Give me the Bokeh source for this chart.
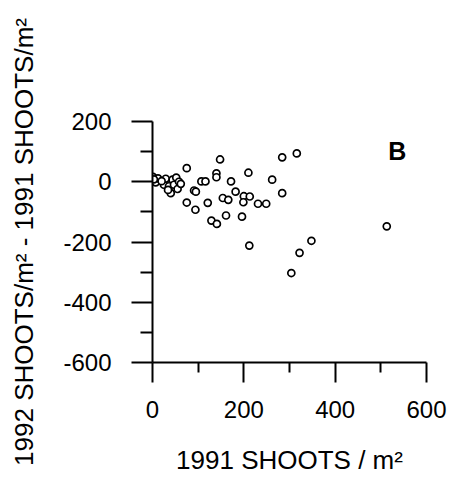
from bokeh.plotting import figure
from bokeh.models import Range1d, Label, FixedTicker, PrintfTickFormatter
from bokeh.embed import file_html
from bokeh.resources import INLINE

# 1991 shoots/m2 (x) and change 1992-1991 (y)
shoots_1991 = [1, 7, 12, 3, 25, 29, 36, 40, 34, 44, 47, 52, 55, 58, 62, 20,
               75, 148, 140, 140, 107, 116, 172, 210, 262, 284, 316, 284,
               91, 95, 75, 94, 121, 154, 166, 182, 200, 213, 199, 231, 249,
               129, 141, 161, 196, 212, 348, 322, 304, 513]
shoots_change = [16, -2, 11, 8, -10, 10, -15, -38, -27, 7, -10, 14, -24, 0, -7, 2,
                 45, 74, 28, 15, 1, 1, 1, 30, 7, 81, 94, -38,
                 -29, -33, -69, -93, -70, -54, -60, -33, -48, -49, -68, -73, -73,
                 -129, -140, -112, -116, -212, -196, -236, -303, -148]

x_ticks = [0, 200, 400, 600]
y_ticks = [-600, -400, -200, 0, 200]

FONT = "Liberation Sans"

p = figure(width=454, height=485, output_backend="svg", toolbar_location=None,
           x_range=Range1d(0, 600), y_range=Range1d(-600, 200),
           min_border_left=152, min_border_top=121, min_border_right=28,
           min_border_bottom=123)
p.outline_line_color = None
p.grid.grid_line_color = None
p.background_fill_color = "white"

p.scatter(shoots_1991, shoots_change, marker="circle", size=7,
          line_color="black", line_width=1.7, fill_color="white")

for ax in (p.xaxis[0], p.yaxis[0]):
    ax.axis_line_width = 2
    ax.axis_line_color = "black"
    ax.major_tick_line_width = 2
    ax.minor_tick_line_width = 2
    ax.major_tick_in = 0
    ax.minor_tick_in = 0
    ax.major_label_text_font = FONT
    ax.major_label_text_font_size = "24px"
    ax.major_label_text_color = "black"
    ax.axis_label_text_font = FONT
    ax.axis_label_text_font_size = "26px"
    ax.axis_label_text_font_style = "normal"
    ax.axis_label_text_color = "black"
    ax.formatter = PrintfTickFormatter(format="%d")

p.xaxis.ticker = FixedTicker(ticks=x_ticks, minor_ticks=[100, 300, 500])
p.yaxis.ticker = FixedTicker(ticks=y_ticks, minor_ticks=[-500, -300, -100, 100])

p.xaxis.major_tick_out = 20
p.xaxis.minor_tick_out = 10
p.xaxis.major_label_standoff = 18
p.xaxis.axis_label_standoff = 24
p.xaxis.axis_label = "1991 SHOOTS / m²"

p.yaxis.major_tick_out = 21
p.yaxis.minor_tick_out = 12
p.yaxis.major_label_standoff = 20
p.yaxis.axis_label_standoff = 21
p.yaxis.axis_label = "1992 SHOOTS/m² - 1991 SHOOTS/m²"

p.add_layout(Label(x=536, y=101, text="B", text_font=FONT, text_font_size="25px",
                   text_font_style="bold", text_align="center",
                   text_baseline="middle", text_color="black"))

open("out.html", "w").write(file_html(p, INLINE))
